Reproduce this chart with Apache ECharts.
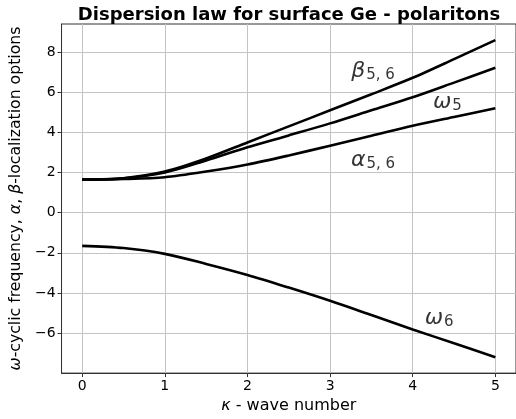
<!DOCTYPE html>
<html>
<head>
<meta charset="utf-8">
<script src="https://cdn.jsdelivr.net/npm/echarts@6/dist/echarts.min.js"></script>
<style>
  html, body { margin: 0; padding: 0; background: #fff; }
  #chart { width: 516px; height: 419px; }
</style>
</head>
<body>
<div id="chart"></div>
<script>
// wave number samples
const kappa = [0, 0.5, 1, 1.5, 2, 2.5, 3, 3.5, 4, 4.5, 5];
// branches
const beta56  = [1.65, 1.72, 2.05, 2.7, 3.5, 4.3, 5.1, 5.9, 6.72, 7.65, 8.6];
const omega5  = [1.65, 1.71, 2.0, 2.6, 3.26, 3.85, 4.45, 5.1, 5.75, 6.48, 7.22];
const alpha56 = [1.65, 1.68, 1.77, 2.05, 2.4, 2.85, 3.34, 3.83, 4.33, 4.77, 5.2];
const omega6  = [-1.65, -1.76, -2.05, -2.55, -3.1, -3.73, -4.39, -5.1, -5.82, -6.5, -7.2];

const xTicks = [0, 1, 2, 3, 4, 5];
const yTicks = [-6, -4, -2, 0, 2, 4, 6, 8];

// curve annotations
const labelTexts = ['{g|β}{s|5, 6}', '{g|ω}{s|5}', '{g|α}{s|5, 6}', '{g|ω}{s|6}'];
const labelK = [3.52, 4.42, 3.52, 4.32];
const labelY = [7.05, 5.5, 2.6, -5.26];

const FONT = 'DejaVu Sans';

function pairs(ys) {
    return kappa.map((k, i) => [k, ys[i]]);
}

function curve(ys) {
    return {
        type: 'line',
        data: pairs(ys),
        smooth: 0.3,
        showSymbol: false,
        symbol: 'none',
        lineStyle: { color: '#000', width: 2.6 },
        silent: true,
        z: 3
    };
}

const chart = echarts.init(document.getElementById('chart'));
chart.setOption({
    animation: false,
    title: {
        text: 'Dispersion law for surface Ge - polaritons',
        left: 284,
        textAlign: 'center',
        top: 1,
        textStyle: { fontFamily: FONT, fontWeight: 'bold', fontSize: 18, color: '#000' }
    },
    grid: {
        left: 60, top: 24, width: 457, height: 351,
        show: true, borderColor: '#333', borderWidth: 1
    },
    xAxis: {
        type: 'value',
        min: -0.25, max: 5.25,
        name: '{i|κ} - wave number',
        nameLocation: 'middle',
        nameGap: 24,
        nameTextStyle: {
            fontFamily: FONT, fontSize: 16, color: '#000',
            rich: { i: { fontFamily: FONT, fontSize: 16, fontStyle: 'italic', color: '#000' } }
        },
        axisLine: { show: true, onZero: false, lineStyle: { color: '#333', width: 1 } },
        axisTick: { show: true, customValues: xTicks, length: 4, lineStyle: { color: '#333' } },
        axisLabel: { customValues: xTicks, fontFamily: FONT, fontSize: 14, color: '#000', margin: 6 },
        splitLine: { show: true, lineStyle: { color: '#c4c4c4', width: 1 } }
    },
    yAxis: {
        type: 'value',
        min: -7.99, max: 9.4,
        name: '{i|ω}-cyclic frequency, {i|α}, {i|β}-localization options',
        nameLocation: 'middle',
        nameRotate: 90,
        nameGap: 19,
        nameTextStyle: {
            fontFamily: FONT, fontSize: 15.7, color: '#000',
            rich: { i: { fontFamily: FONT, fontSize: 15.7, fontStyle: 'italic', color: '#000' } }
        },
        axisLine: { show: true, onZero: false, lineStyle: { color: '#333', width: 1 } },
        axisTick: { show: true, customValues: yTicks, length: 4, lineStyle: { color: '#333' } },
        axisLabel: {
            customValues: yTicks, fontFamily: FONT, fontSize: 14, color: '#000', margin: 6,
            formatter: v => String(v).replace('-', '\u2212')
        },
        splitLine: { show: true, lineStyle: { color: '#c4c4c4', width: 1 } }
    },
    series: [
        curve(beta56),
        curve(omega5),
        curve(alpha56),
        curve(omega6),
        {
            type: 'scatter',
            symbolSize: 0,
            silent: true,
            data: labelTexts.map((t, i) => ({ value: [labelK[i], labelY[i]], text: t })),
            label: {
                show: true,
                position: 'inside',
                formatter: p => p.data.text,
                rich: {
                    g: { fontFamily: FONT, fontStyle: 'italic', fontSize: 22, color: '#000', lineHeight: 26 },
                    s: { fontFamily: FONT, fontSize: 15, color: '#000', padding: [8, 0, 0, 1] }
                }
            },
            z: 4
        }
    ]
});
</script>
</body>
</html>
